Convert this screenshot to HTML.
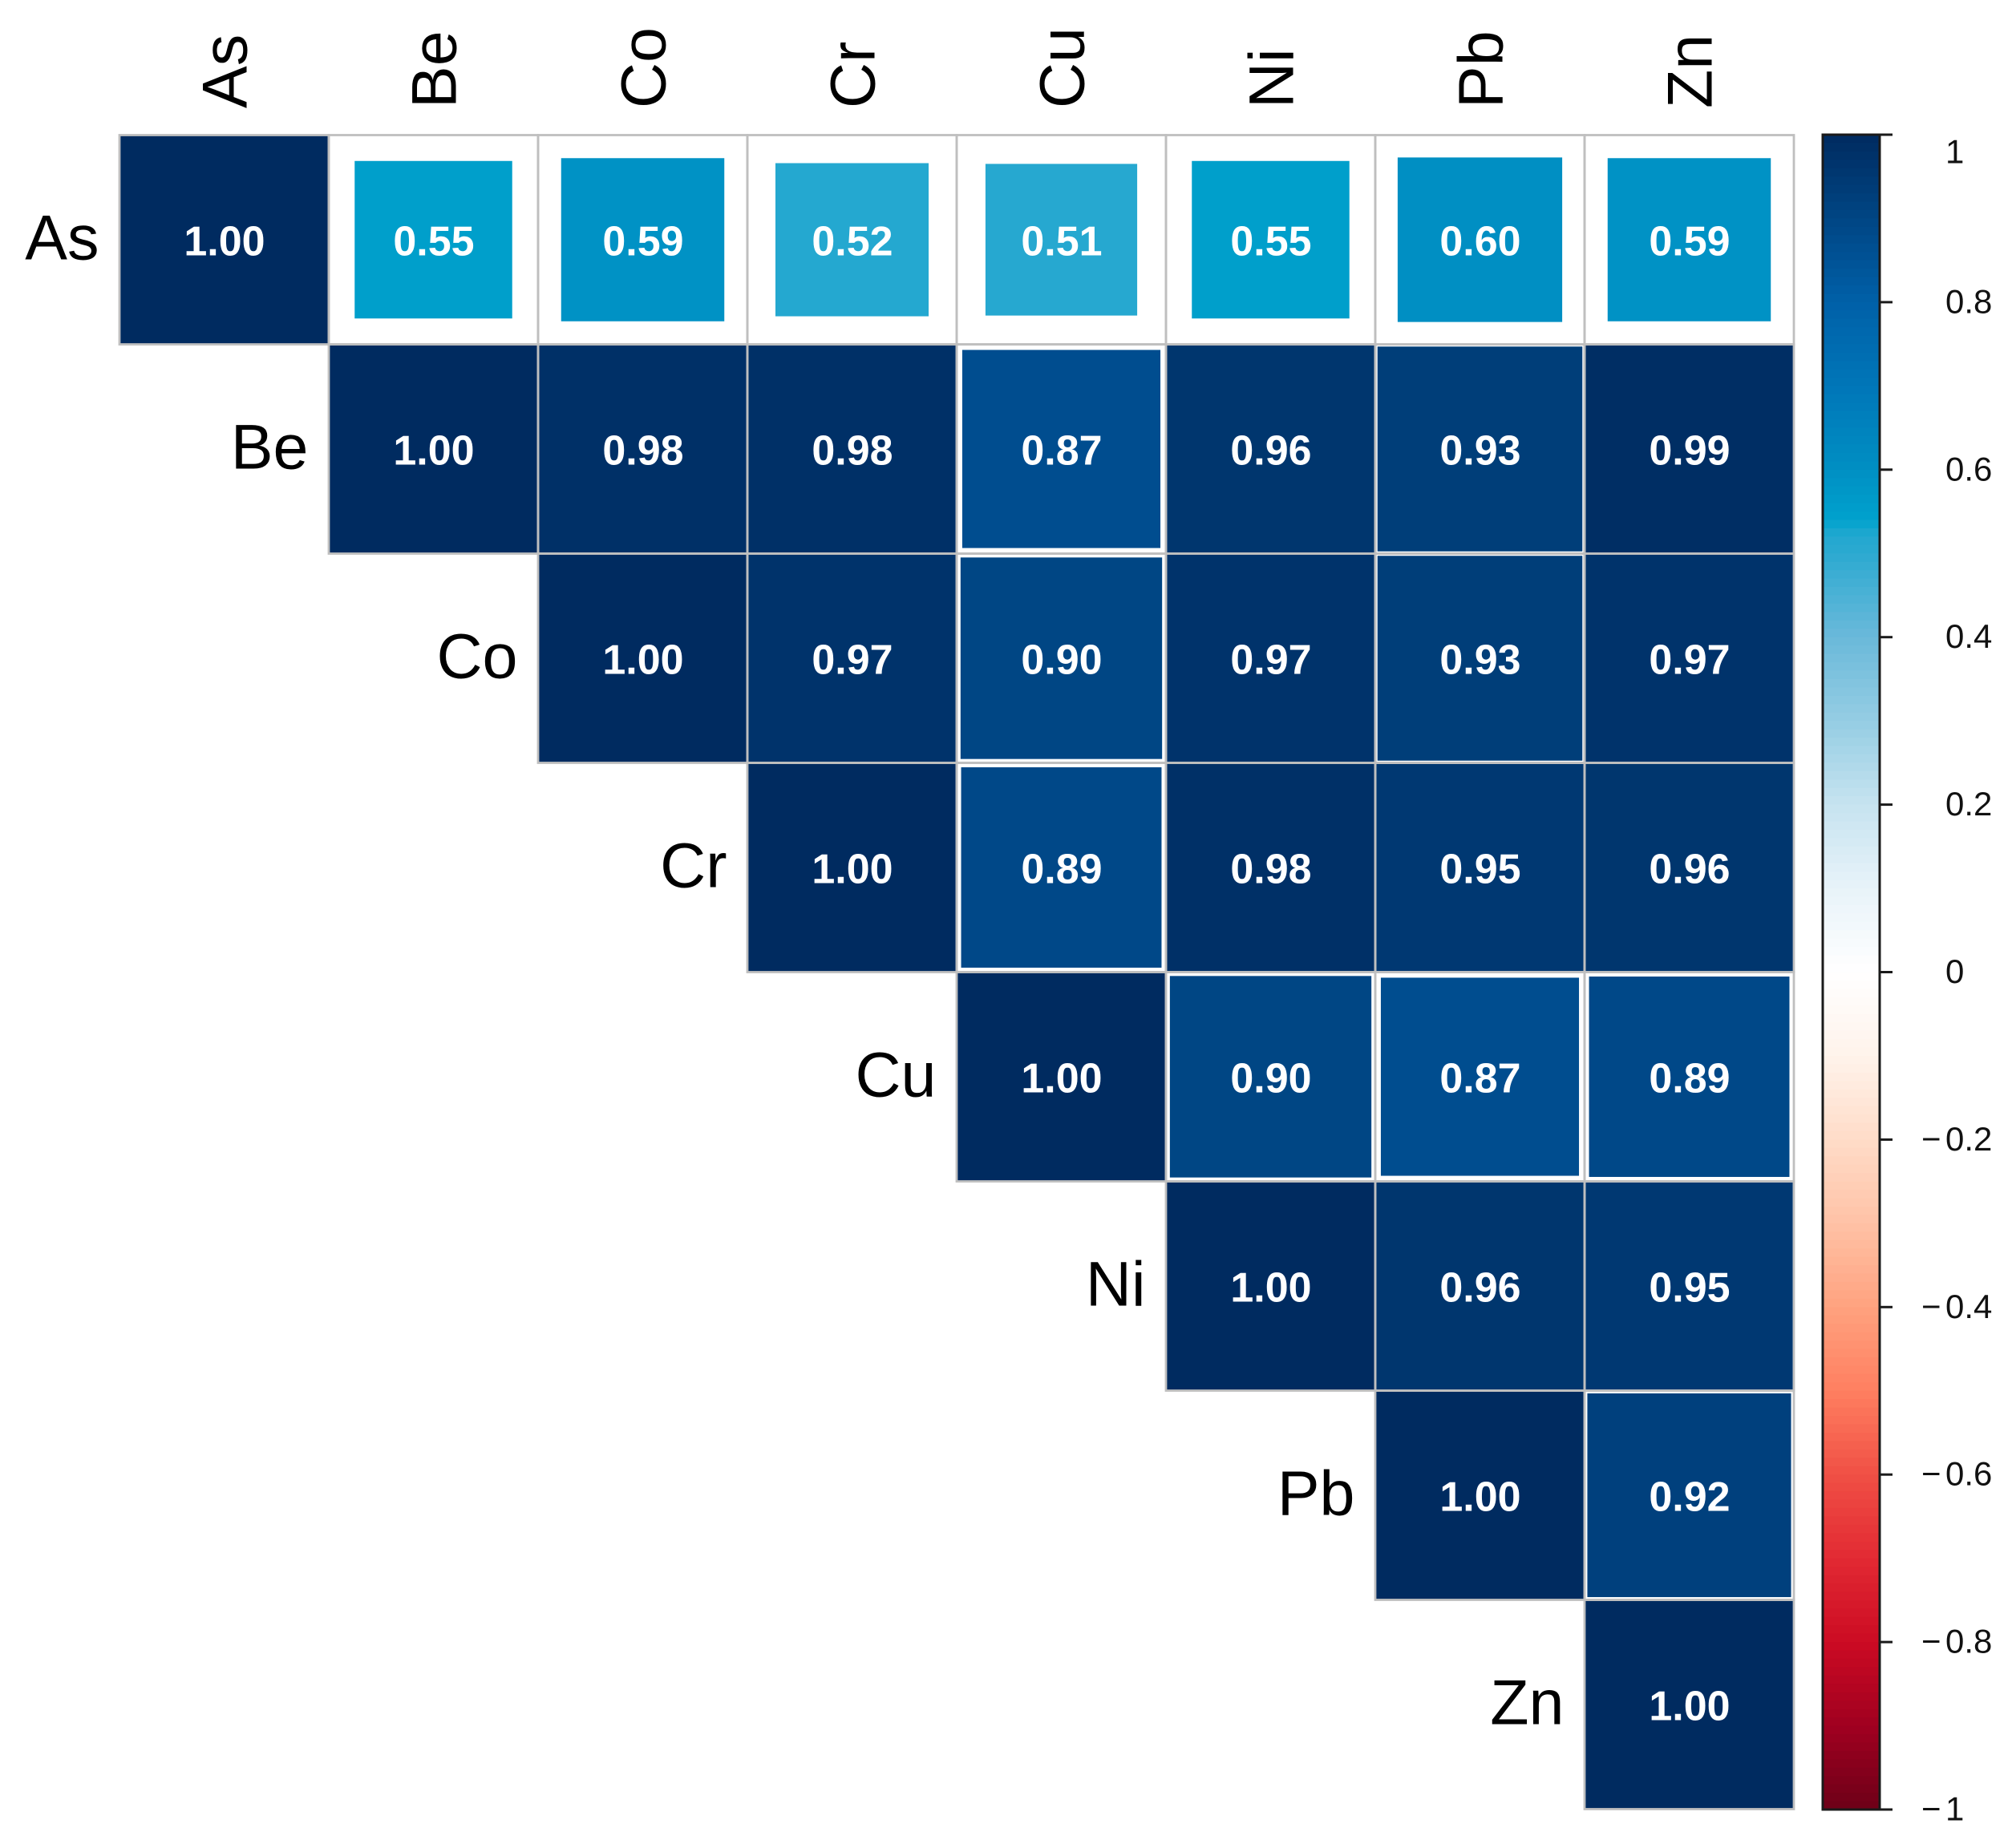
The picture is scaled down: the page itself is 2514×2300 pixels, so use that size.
<!DOCTYPE html>
<html lang="en">
<head>
<meta charset="utf-8">
<title>Correlation matrix</title>
<style>
html,body{margin:0;padding:0;background:#fff;width:2514px;height:2300px;overflow:hidden}
svg{display:block}
text{font-family:"Liberation Sans",Arial,sans-serif}
</style>
</head>
<body>
<svg id="chart" xmlns="http://www.w3.org/2000/svg" width="2514" height="2300" viewBox="0 0 2514 2300"></svg>
<script>
const variables = ["As", "Be", "Co", "Cr", "Cu", "Ni", "Pb", "Zn"];
const correlations = [
  [1.00, 0.55, 0.59, 0.52, 0.51, 0.55, 0.60, 0.59],
  [1.00, 0.98, 0.98, 0.87, 0.96, 0.93, 0.99],
  [1.00, 0.97, 0.90, 0.97, 0.93, 0.97],
  [1.00, 0.89, 0.98, 0.95, 0.96],
  [1.00, 0.90, 0.87, 0.89],
  [1.00, 0.96, 0.95],
  [1.00, 0.92],
  [1.00]
];
const legendTicks = [1, 0.8, 0.6, 0.4, 0.2, 0, -0.2, -0.4, -0.6, -0.8, -1];
const legendTickLabels = ["1", "0.8", "0.6", "0.4", "0.2", "0", "0.2", "0.4", "0.6", "0.8", "1"];
const colorStopValues = [-1, -0.9, -0.8, -0.7, -0.6, -0.5, -0.4, -0.3, -0.2, -0.1, 0, 0.1, 0.2, 0.3, 0.4, 0.51, 0.52, 0.54, 0.6, 0.7, 0.8, 1];
const colorStopColors = ["#6e0018", "#a00020", "#cc0b23", "#e22a33", "#f05045", "#ff7f60", "#ffa27f", "#ffc2a6", "#ffdcc8", "#fff3eb", "#ffffff", "#e8f3f9", "#c6e3f0", "#95cde3", "#6ab9da", "#26a8d0", "#24a8d0", "#00a2cd", "#008fc3", "#0076b8", "#0060a8", "#002b60"];

const svg = document.getElementById("chart");
const NS = "http://www.w3.org/2000/svg";
const gridLeft = 149, gridTop = 168.5, cellSize = 261;
const barLeft = 2273, barRight = 2344, barTop = 168, barBottom = 2257;

function xCol(i) { return gridLeft + i * cellSize; }
function yRow(i) { return gridTop + i * cellSize; }
function yLegend(v) { return barTop + (1 - v) / 2 * (barBottom - barTop); }
function hexToRgb(h) { return [1, 3, 5].map(function (p) { return parseInt(h.substr(p, 2), 16); }); }
function colorFor(v) {
  const c = Math.max(-1, Math.min(1, v));
  for (let i = 1; i < colorStopValues.length; i++) {
    if (c <= colorStopValues[i]) {
      const t = (c - colorStopValues[i - 1]) / (colorStopValues[i] - colorStopValues[i - 1]);
      const a = hexToRgb(colorStopColors[i - 1]), b = hexToRgb(colorStopColors[i]);
      return "rgb(" + a.map(function (x, k) { return Math.round(x + (b[k] - x) * t); }).join(",") + ")";
    }
  }
  return colorStopColors[colorStopColors.length - 1];
}
function make(tag, attrs, parent) {
  const el = document.createElementNS(NS, tag);
  for (const k in attrs) el.setAttribute(k, attrs[k]);
  (parent || svg).appendChild(el);
  return el;
}

/* matrix cells */
const squareLayer = make("g", {});


const gridLayer = make("g", {});


const valueLayer = make("g", {});



correlations.forEach(function (row, r) {
  row.forEach(function (value, k) {
    const c = r + k;
    const pair = variables[r].toLowerCase() + "-" + variables[c].toLowerCase();
    const side = Math.min(cellSize, Math.sqrt(Math.abs(value)) * cellSize * 1.015);
    const sq = make("rect", {
      x: xCol(c) + cellSize / 2 - side / 2,
      y: yRow(r) + cellSize / 2 - side / 2,
      width: side, height: side, fill: colorFor(value)
    }, squareLayer);
    
    
    const border = make("rect", { x: xCol(c), y: yRow(r), width: cellSize, height: cellSize, fill: "none", stroke: "#bfbfbf", "stroke-width": 2.8 }, gridLayer);
    
    
    const tx = make("text", {
      x: xCol(c) + cellSize / 2 + 0.5,
      y: yRow(r) + cellSize / 2 + 19.5,
      "text-anchor": "middle", "font-size": 52, "font-weight": "bold", fill: "#ffffff"
    }, valueLayer);
    tx.textContent = value.toFixed(2);
    
    
  });
});

/* axis labels */
variables.forEach(function (name, i) {
  const cx = xCol(i) + cellSize / 2;
  const top = make("text", {
    transform: "translate(" + (cx + 28) + ",135) rotate(-90)",
    "font-size": 79, fill: "#000000"
  });
  top.textContent = name;
  
  
  const left = make("text", {
    x: xCol(i) - 25.5, y: yRow(i) + cellSize / 2 + 24.5,
    "text-anchor": "end", "font-size": 79, fill: "#000000"
  });
  left.textContent = name;
  
  
});

/* colour bar */
const bar = make("g", {});


const barSteps = 200;
for (let i = 0; i < barSteps; i++) {
  const v = 1 - (i + 0.5) / barSteps * 2;
  const y0 = barTop + i / barSteps * (barBottom - barTop);
  const strip = make("rect", { x: barLeft, y: y0, width: barRight - barLeft, height: (barBottom - barTop) / barSteps + 0.6, fill: colorFor(v) }, bar);
  
  
}
const frame = make("rect", { x: barLeft, y: barTop, width: barRight - barLeft, height: barBottom - barTop, fill: "none", stroke: "#1a1a1a", "stroke-width": 3 }, bar);



legendTicks.forEach(function (v, i) {
  const y = yLegend(v);
  const tick = make("line", { x1: barRight, x2: 2360, y1: y, y2: y, stroke: "#1a1a1a", "stroke-width": 3 }, bar);
  
  
  const labelY = (v === 1 ? y + 21 : y - 1) + 14.5;
  const label = make("text", { x: 2426, y: labelY, "font-size": 42, fill: "#111111" }, bar);
  label.textContent = legendTickLabels[i];
  
  
  if (v < 0) {
    const minus = make("text", { x: 2396, y: labelY, "font-size": 42, fill: "#111111" }, bar);
    minus.textContent = "\u2212";
    
    
  }
});
</script>
</body>
</html>
